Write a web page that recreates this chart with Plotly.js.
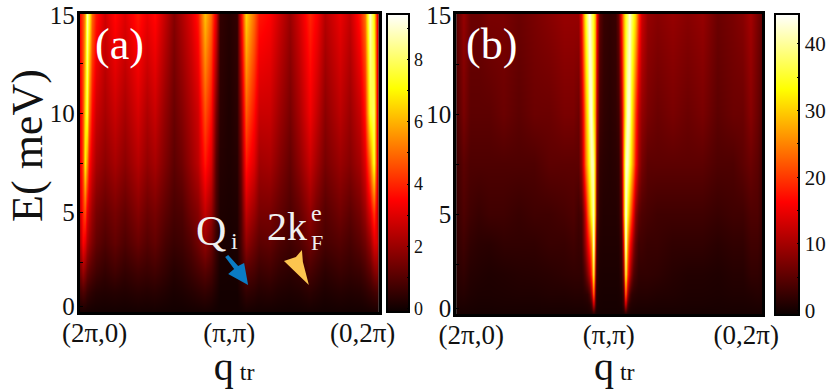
<!DOCTYPE html>
<html>
<head>
<meta charset="utf-8">
<script src="https://cdn.plot.ly/plotly-3.0.1.min.js"></script>
<style>html,body{margin:0;padding:0;background:#fff}#c{width:830px;height:389px}</style>
</head>
<body>
<div id="c"></div>
<script>
// Panel (a): transverse momentum index, energy levels, intensity rows
var qA = [0,3,5,7,9,12,16,25,35,45,58,67,75,85,94,102,111,118,125,131,136,141,150,158,162,167,175,180,191,200,211,220,231,238,246,261,271,281,286,291,295,298,300];
var energyA = [0,1,2,3.5,5,7.5,10,15];
var aE0 = [.08,.1,.1,.08,.07,.06,.05,.04,.05,.04,.06,.05,.06,.04,.03,.03,.05,.06,.08,.06,.03,.02,.02,.02,.04,.08,.06,.05,.05,.04,.03,.04,.06,.05,.03,.05,.04,.05,.06,.08,.1,.1,.08];
var aE1 = [.7,.9,.8,.6,.5,.4,.3,.25,.3,.25,.35,.3,.35,.25,.15,.2,.3,.4,.5,.4,.2,.05,.05,.05,.25,.5,.4,.3,.35,.25,.2,.25,.4,.3,.2,.3,.25,.3,.4,.55,.7,.8,.5];
var aE2 = [1.4,2,1.7,1.3,1.1,.9,.7,.5,.7,.5,.7,.6,.7,.5,.3,.4,.6,.8,1,.8,.4,.1,.08,.1,.5,1,.8,.6,.7,.5,.4,.5,.8,.6,.4,.6,.5,.6,.8,1.1,1.6,1.8,.9];
var aE35 = [2.2,3.5,3.2,2.4,2,1.6,1.2,.9,1.2,.9,1.3,1,1.2,.8,.6,.7,1,1.4,1.9,1.4,.6,.15,.1,.15,.8,1.9,1.4,1.1,1.2,.9,.7,.9,1.4,1.1,.8,1,.8,1.1,1.4,2,3,3,1.3];
var aE5 = [2.6,4,4.6,3.2,2.6,2,1.5,1.2,1.5,1.2,1.7,1.3,1.5,1.1,.8,.9,1.4,1.7,2.6,2,.8,.2,.15,.2,.9,2.6,2,1.5,1.5,1.2,.9,1.2,1.9,1.4,1,1.4,1.1,1.5,2,3,4.3,3,1.5];
var aE75 = [3,4.5,7,5.6,3.8,2.9,2.2,1.8,2.2,1.8,2.4,1.9,2.2,1.6,1.1,1.4,2,2.5,3.8,3,1,.3,.2,.3,1.3,3.8,3,2.1,2.2,1.7,1.2,1.8,2.7,2.1,1.5,2,1.7,2.2,3,5,7.5,3.5,1.8];
var aE10 = [3,4.5,6.5,7.8,5.2,3.6,2.7,2.2,2.7,2.2,2.9,2.3,2.7,1.9,1.3,1.7,2.3,2.8,4.6,3.7,1.5,.4,.2,.4,1.8,4.8,3.7,2.7,2.7,2.1,1.5,2.2,3.3,2.6,1.8,2.5,2,2.7,3.8,7.5,8,3.5,2];
var aE15 = [3.5,4.5,5.5,8.8,7.5,5,3.8,2.8,3.6,3,3.8,3.2,3.6,2.6,1.7,2.3,3,3.8,6.2,5,3,.5,.3,.5,3.2,6.5,5,3.8,3.5,2.8,2,2.8,4,3.4,2.4,3.2,2.6,3.8,5,9,7,3.5,2];

// Panel (b)
var qB = [0,7,14,22,32,47,62,77,92,107,117,122,125,127,129,131,133,135,137,139,141,144,148,154,160,163,166,168,170,172,174,176,178,180,183,186,192,202,217,232,247,262,277,287,295,302,307];
var energyB = [0,0.5,1,2,3.5,5,7.5,10,15];
var bE0 = [.2,.2,.2,.1,.1,.2,.2,.2,.2,.2,.2,.2,.2,.2,.2,.3,.4,.6,.8,.4,.2,.1,.1,.1,.1,.1,.2,.4,.8,.6,.4,.3,.2,.2,.2,.2,.2,.2,.2,.2,.1,.2,.2,.2,.2,.2,.2];
var bE05 = [.6,.7,.5,.4,.4,.5,.5,.5,.6,.6,.7,.7,.7,.8,.9,1,1.5,4,14,3,.6,.3,.2,.2,.2,.3,.6,3,14,4,1.5,1,.9,.8,.7,.7,.7,.6,.6,.5,.5,.4,.5,.5,.6,.7,.6];
var bE1 = [1,1.2,.8,.6,.6,.7,.8,.8,1,1,1.2,1.2,1.2,1.4,1.6,2,4,10,24,4,1,.4,.3,.3,.3,.4,1,4,24,10,4,2,1.6,1.4,1.2,1.2,1.2,1,.9,.7,.7,.6,.8,.8,1,1.2,1];
var bE2 = [1.5,2,1.2,1,.8,1,1.2,1.3,1.5,1.8,2,2,2,3,5,8,12,20,36,8,2,.6,.5,.5,.5,.6,2,9,36,20,12,7,4,3,2,2,2,1.8,1.3,1,1,.8,1.2,1.2,2,2,1.5];
var bE35 = [2,3,2,1.6,1.5,2,2,2,2.5,2.5,3,2.5,3,6,10,15,20,26,44,15,3,1,.8,.8,.8,1,3,16,44,26,18,13,8,5,3,3,2.5,2.5,2,2,2,1.5,2,2,3,3,2];
var bE5 = [2.5,4,3,2.5,3,3,2.5,3,3,3.5,4,3,4,8,14,22,28,36,42,22,5,1.5,1,1,1,1.5,5,24,44,34,26,20,14,8,5,4,3.5,3,3,3,3,2.5,3,3,4,4,2.5];
var bE75 = [3,5,4,4,4,4,4,4,5,5,5,5,9,16,24,30,36,42,40,24,8,2,1.5,1.2,1.5,2,8,26,42,42,36,30,24,17,10,7,5,5,5,5,5,4,4,5,6,5,3];
var bE10 = [4,7,5,5,5,6,5,6,6,7,7,6,11,18,27,33,42,43,33,24,12,3,2,1.5,2,3,11,24,36,43,42,33,27,20,12,9,7,6,7,6,7,5,6,6,8,6,4];
var bE15 = [5,9,6,6,7,7,6,7,8,9,9,9,16,26,34,40,44,38,34,26,17,5,2.5,2,2.5,6,18,27,34,38,43,38,34,30,20,13,9,8,9,8,9,6,7,8,10,7,5];

// Tick labels
var xTickA = [15,150,284];
var xTickB = [15,153,291];
var xTickText = ["(2π,0)","(π,π)","(0,2π)"];
var yTicks = [0.3,2.5,5,7.5,10,12.5,14.95];
var yTickText = ["0","","5","","10","","15"];
var cbTicksA = [0,1,2,3,4,5,6,7,8,9];
var cbTextA = ["0","","2","","4","","6","","8",""];
var cbTicksB = [0,5,10,15,20,25,30,35,40];
var cbTextB = ["0","","10","","20","","30","","40"];

var W = 830, H = 389;
var SERIF = "Liberation Serif, Times New Roman, serif";
var hot = [[0,"#0a0000"],[0.375,"#ff0000"],[0.75,"#ffff00"],[1,"#ffffff"]];
function px(x){return x/W;}
function py(y){return 1-y/H;}
function pathOf(points){
  return "M"+points.map(function(p){return px(p[0])+","+py(p[1]);}).join("L")+"Z";
}
function cbar(x,thick,top,bottom,vals,text,size){
  return {x:px(x),xanchor:"left",xpad:0,y:py(top),yanchor:"top",ypad:0,
    lenmode:"pixels",len:bottom-top,thicknessmode:"pixels",thickness:thick,
    outlinewidth:2,outlinecolor:"#000",tickmode:"array",tickvals:vals,ticktext:text,
    ticks:"inside",ticklen:3,tickwidth:1,tickcolor:"#000",
    tickfont:{family:SERIF,size:size,color:"#111"},ticklabeloverflow:"allow"};
}
var traces = [
 {type:"heatmap",x:qA,y:energyA,z:[aE0,aE1,aE2,aE35,aE5,aE75,aE10,aE15],zsmooth:"best",
  colorscale:hot,zmin:-0.1,zmax:9.45,xaxis:"x",yaxis:"y",hoverinfo:"skip",
  colorbar:cbar(388,22,14,312,cbTicksA,cbTextA,18)},
 {type:"heatmap",x:qB,y:energyB,z:[bE0,bE05,bE1,bE2,bE35,bE5,bE75,bE10,bE15],zsmooth:"best",
  colorscale:hot,zmin:-0.7,zmax:44.5,xaxis:"x2",yaxis:"y2",hoverinfo:"skip",
  colorbar:cbar(778,24,14,315,cbTicksB,cbTextB,21)}
];
function xAxis(dom,max,ticks){
  return {domain:[px(dom[0]),px(dom[1])],range:[0,max],showline:true,mirror:true,linewidth:3,linecolor:"#000",
    tickmode:"array",tickvals:ticks,ticktext:xTickText,ticks:"",showgrid:false,zeroline:false,
    tickfont:{family:SERIF,size:27,color:"#111"},ticklabelstandoff:-5,
    title:{text:"&nbsp;q<span style='font-size:24px'> tr</span>",font:{family:SERIF,size:40,color:"#111"},standoff:7}};
}
function yAxis(top,bottom){
  return {domain:[py(bottom),py(top)],range:[0,15],showline:true,mirror:true,linewidth:3,linecolor:"#000",
    tickmode:"array",tickvals:yTicks,ticktext:yTickText,ticks:"inside",ticklen:3,tickcolor:"#000",
    ticklabeloverflow:"allow",ticklabelstandoff:-3,
    showgrid:false,zeroline:false,tickfont:{family:SERIF,size:25,color:"#111"}};
}
function note(x,y,text,size,color,angle){
  return {xref:"paper",yref:"paper",x:px(x),y:py(y),text:text,showarrow:false,xanchor:"center",yanchor:"middle",
    textangle:angle||0,font:{family:SERIF,size:size,color:color||"#f0f0f0"}};
}
var ya = yAxis(14,312);
var yb = yAxis(14,314);
yb.anchor = "x2";
var xb = xAxis([458,765],307,xTickB);
xb.anchor = "y2";
var layout = {
  width:W,height:H,margin:{l:0,r:0,t:0,b:0},paper_bgcolor:"#fff",plot_bgcolor:"#000",showlegend:false,
  xaxis:xAxis([80,380],300,xTickA),yaxis:ya,xaxis2:xb,yaxis2:yb,
  annotations:[
    note(27,145,"E( meV)",44,"#111",-90),
    note(120,44,"(a)",44,"#fff"),
    note(493,44,"(b)",44,"#fff"),
    note(212,231,"Q",42),
    note(235,241,"i",24),
    note(288,226,"2k",40),
    note(318,213,"e",24),
    note(318,242,"F",22)
  ],
  shapes:[
    {type:"path",xref:"paper",yref:"paper",line:{width:0},fillcolor:"#0a7bc4",
     path:pathOf([[226,257],[229,255],[239,266],[245,263],[249,285],[229,274],[235,269]])},
    {type:"path",xref:"paper",yref:"paper",line:{width:0},fillcolor:"#fcc54f",
     path:pathOf([[303,250],[304,262],[310,285],[285,261],[297,257]])}
  ]
};
Plotly.newPlot("c",traces,layout,{displayModeBar:false,staticPlot:true});
</script>
</body>
</html>
